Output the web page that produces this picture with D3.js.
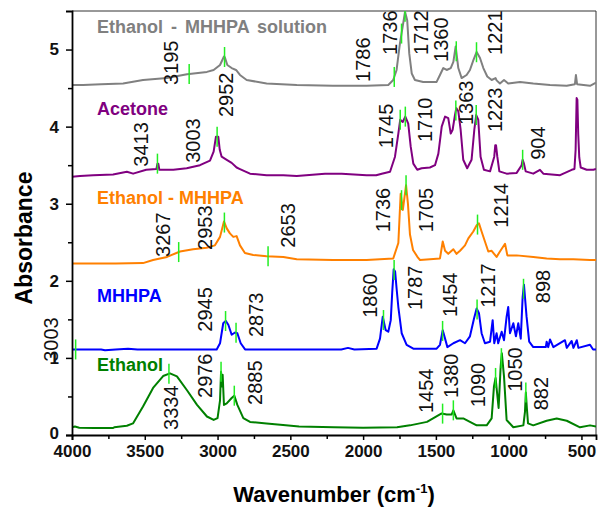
<!DOCTYPE html>
<html>
<head>
<meta charset="utf-8">
<script src="https://cdn.jsdelivr.net/npm/d3@7"></script>
<style>
  body { margin: 0; background: #fff; }
  svg { display: block; font-family: Arial, "Liberation Sans", sans-serif; }
</style>
</head>
<body>
<svg id="chart" width="598" height="508"></svg>
<script>
//  data : [wavenumber (cm-1), absorbance]
const ethanol = [[4000,0.10],[3980,0.11],[3950,0.095],[3850,0.09],[3720,0.09],[3710,0.10],[3623,0.12],[3581,0.15],
  [3512,0.37],[3443,0.61],[3374,0.765],[3327,0.80],[3279,0.76],[3210,0.58],[3141,0.39],[3073,0.24],[3027,0.195],
  [3000,0.22],[2983,0.45],[2976,0.82],[2972,0.63],[2965,0.78],[2956,0.39],[2937,0.41],[2903,0.48],[2885,0.51],
  [2864,0.39],[2823,0.22],[2777,0.17],[2663,0.15],[2550,0.13],[2440,0.11],[2200,0.10],[2000,0.095],[1767,0.10],
  [1678,0.125],[1561,0.17],[1493,0.245],[1460,0.28],[1426,0.265],[1392,0.265],[1380,0.32],[1358,0.215],[1312,0.215],
  [1266,0.17],[1220,0.125],[1151,0.125],[1117,0.215],[1101,0.63],[1090,0.74],[1069,0.35],[1055,0.89],[1047,1.06],
  [1032,0.76],[1014,0.195],[968,0.10],[899,0.125],[888,0.3],[882,0.55],[875,0.35],[867,0.15],[831,0.125],
  [739,0.185],[670,0.215],[601,0.185],[510,0.10],[441,0.125],[400,0.11]];

const mhhpa = [[4000,1.11],[3800,1.11],[3773,1.10],[3700,1.11],[3615,1.12],[3550,1.11],[3006,1.11],[2983,1.19],
  [2961,1.45],[2944,1.48],[2926,1.43],[2903,1.30],[2880,1.33],[2864,1.32],[2841,1.19],[2811,1.11],[2434,1.11],
  [2150,1.11],[2104,1.13],[2060,1.11],[1907,1.12],[1884,1.25],[1865,1.535],[1845,1.36],[1827,1.34],[1810,1.49],
  [1800,1.85],[1790,2.15],[1780,2.12],[1770,1.9],[1758,1.66],[1735,1.32],[1701,1.17],[1655,1.12],[1495,1.12],
  [1472,1.17],[1453,1.36],[1437,1.25],[1421,1.14],[1380,1.19],[1334,1.23],[1300,1.19],[1266,1.28],[1238,1.51],
  [1220,1.64],[1204,1.58],[1186,1.32],[1163,1.19],[1128,1.21],[1110,1.49],[1099,1.19],[1083,1.32],[1072,1.19],
  [1048,1.34],[1032,1.23],[1014,1.535],[1003,1.66],[991,1.32],[968,1.45],[950,1.28],[934,1.45],[917,1.25],
  [904,1.79],[895,1.95],[877,1.535],[859,1.21],[831,1.14],[745,1.14],[739,1.21],[728,1.14],[716,1.24],[693,1.14],
  [613,1.23],[601,1.13],[567,1.22],[555,1.13],[532,1.23],[521,1.13],[441,1.17],[420,1.11],[400,1.11]];

const ethanolMhhpa = [[4000,2.225],[3700,2.225],[3512,2.23],[3443,2.27],[3347,2.31],[3258,2.38],[3168,2.41],
  [3075,2.43],[3018,2.46],[2983,2.57],[2956,2.77],[2937,2.68],[2915,2.615],[2892,2.57],[2869,2.58],[2846,2.46],
  [2812,2.36],[2755,2.335],[2663,2.32],[2548,2.31],[2456,2.28],[2207,2.27],[1976,2.27],[1793,2.29],[1758,2.49],
  [1742,3.13],[1727,2.92],[1705,3.24],[1692,3.0],[1678,2.6],[1657,2.4],[1623,2.3],[1609,2.27],[1472,2.29],
  [1453,2.51],[1437,2.39],[1415,2.35],[1380,2.41],[1358,2.35],[1334,2.39],[1300,2.46],[1277,2.55],[1243,2.64],
  [1220,2.72],[1204,2.745],[1186,2.64],[1163,2.51],[1140,2.38],[1117,2.39],[1083,2.31],[1060,2.38],[1025,2.48],
  [1009,2.33],[945,2.33],[831,2.31],[739,2.29],[647,2.28],[556,2.28],[441,2.27],[400,2.27]];

const acetone = [[4000,3.35],[3945,3.36],[3855,3.37],[3718,3.38],[3623,3.415],[3580,3.39],[3490,3.44],[3420,3.45],
  [3413,3.52],[3407,3.52],[3400,3.44],[3304,3.44],[3212,3.46],[3121,3.50],[3052,3.56],[3027,3.675],[3011,3.87],
  [2995,3.87],[2985,3.7],[2972,3.61],[2937,3.57],[2903,3.53],[2869,3.47],[2846,3.45],[2777,3.39],[2663,3.37],
  [2548,3.37],[2456,3.36],[2262,3.39],[2147,3.39],[1976,3.37],[1910,3.37],[1872,3.39],[1815,3.415],[1781,3.61],
  [1758,3.91],[1745,4.09],[1728,4.06],[1710,4.13],[1690,4.04],[1673,3.74],[1655,3.52],[1628,3.44],[1598,3.46],
  [1541,3.47],[1506,3.50],[1483,3.65],[1460,4.0],[1437,4.13],[1415,4.11],[1398,3.91],[1385,3.96],[1369,4.15],
  [1360,4.24],[1346,4.2],[1330,3.96],[1312,3.57],[1285,3.46],[1255,3.57],[1236,3.96],[1223,4.15],[1209,4.09],
  [1193,3.61],[1170,3.44],[1128,3.42],[1099,3.61],[1092,3.76],[1087,3.76],[1078,3.61],[1064,3.42],[1014,3.39],
  [945,3.40],[911,3.50],[904,3.57],[895,3.52],[883,3.42],[831,3.39],[785,3.44],[762,3.39],[647,3.37],[567,3.44],
  [548,3.45],[540,3.70],[533,4.37],[528,4.35],[522,3.9],[515,3.6],[505,3.47],[464,3.44],[418,3.44],[400,3.45]];

const solution = [[4000,4.54],[3924,4.54],[3800,4.55],[3649,4.56],[3512,4.605],[3347,4.63],[3210,4.68],[3073,4.71],
  [3027,4.735],[2983,4.80],[2956,4.91],[2950,4.9],[2933,4.80],[2903,4.76],[2873,4.735],[2846,4.67],[2800,4.605],
  [2663,4.56],[2456,4.54],[2207,4.53],[1976,4.53],[1827,4.54],[1793,4.605],[1770,4.735],[1747,5.08],[1728,5.30],
  [1712,5.49],[1697,5.38],[1683,4.95],[1666,4.69],[1644,4.605],[1587,4.58],[1495,4.58],[1472,4.67],[1449,4.76],
  [1426,4.735],[1398,4.76],[1380,4.84],[1364,5.04],[1346,4.76],[1323,4.63],[1289,4.67],[1266,4.735],[1243,4.86],
  [1220,4.97],[1197,4.89],[1174,4.76],[1147,4.65],[1117,4.605],[1090,4.63],[1083,4.6],[1060,4.56],[1032,4.605],
  [1003,4.56],[922,4.58],[831,4.56],[716,4.54],[601,4.53],[545,4.55],[538,4.67],[530,4.55],[441,4.53],[400,4.57]];

const series_names = ["Ethanol", "MHHPA", "Ethanol - MHHPA", "Acetone", "Ethanol - MHHPA solution"];
const series_data = [ethanol, mhhpa, ethanolMhhpa, acetone, solution];
const series_colors = ["#008000", "#0000ff", "#ff8000", "#800080", "#808080"];

//  peak marks (wavenumber where the green tick sits) and their labels
const peak_marks = [
  [3334, 2976, 2885, 1454, 1380, 1090, 1050, 882],
  [3975, 2945, 2873, 1860, 1787, 1454, 1217, 898],
  [3267, 2953, 2653, 1736, 1705, 1214],
  [3413, 3003, 1745, 1710, 1363, 1223, 904],
  [3195, 2952, 1786, 1736, 1712, 1360, 1221]];
const peak_labels = [
  ["3334", "2976", "2885", "1454", "1380", "1090", "1050", "882"],
  ["3003", "2945", "2873", "1860", "1787", "1454", "1217", "898"],
  ["3267", "2953", "2653", "1736", "1705", "1214"],
  ["3413", "3003", "1745", "1710", "1363", "1223", "904"],
  ["3195", "2952", "1786", "1736", "1712", "1360", "1221"]];

const x_ticks = [4000, 3500, 3000, 2500, 2000, 1500, 1000, 500];
const x_minor = [3750, 3250, 2750, 2250, 1750, 1250, 750];
const y_ticks = [0, 1, 2, 3, 4, 5];
const y_minor = [0.5, 1.5, 2.5, 3.5, 4.5];

//  layout : where each rotated label starts, in axis units
const label_pos = [
  [[3272,0.065],[3038,0.48],[2695,0.39],[1520,0.285],[1348,0.48],[1163,0.36],[908,0.56],[730,0.32]],
  [[4096,0.95],[3038,1.34],[2688,1.27],[1905,1.52],[1596,1.62],[1355,1.53],[1094,1.65],[716,1.71]],
  [[3327,2.31],[3038,2.40],[2468,2.43],[1815,2.63],[1520,2.63],[1005,2.69]],
  [[3478,3.48],[3121,3.53],[1795,3.72],[1527,3.80],[1245,4.02],[1046,3.93],[750,3.57]],
  [[3272,4.54],[2894,4.125],[1953,4.58],[1767,4.93],[1554,4.93],[1417,4.84],[1046,4.93]]];
const name_pos = [[3828,0.83],[3828,1.725],[3828,3.0],[3828,4.15],[3828,5.215]];

//  draw
function draw_chart() {
  const svg = d3.select("#chart");
  const x = d3.scaleLinear().domain([4000, 400]).range([72, 596]);
  const y = d3.scaleLinear().domain([0, 5.5]).range([435, 11]);
  const [x0, x1] = x.range();
  const [y0, y1] = y.range();

  svg.append("clipPath").attr("id", "plot")
    .append("rect").attr("x", x0).attr("y", y1).attr("width", x1 - x0).attr("height", y0 - y1);

  //  frame top / right
  svg.append("path")
    .attr("d", `M${x0},${y1}H${x1}V${y0}`)
    .attr("fill", "none").attr("stroke", "#333").attr("stroke-width", 1);

  const line = d3.line().x(d => x(d[0])).y(d => y(d[1]));

  const plot = svg.append("g").attr("clip-path", "url(#plot)");
  series_data.forEach((data, i) => {
    plot.append("path")
      .datum(data)
      .attr("fill", "none")
      .attr("stroke", series_colors[i])
      .attr("stroke-width", 2)
      .attr("stroke-linejoin", "round")
      .attr("d", line);
  });

  //  value of a spectrum at a wavenumber (linear between read points)
  function value_at(data, w) {
    for (let k = 0; k < data.length - 1; k++) {
      const a = data[k], b = data[k + 1];
      if (w <= a[0] && w >= b[0]) return a[1] + (b[1] - a[1]) * (a[0] - w) / (a[0] - b[0]);
    }
    return data[0][1];
  }

  series_data.forEach((data, i) => {
    peak_marks[i].forEach(w => {
      const cy = y(value_at(data, w));
      plot.append("line")
        .attr("x1", x(w)).attr("x2", x(w))
        .attr("y1", cy - 10).attr("y2", cy + 10)
        .attr("stroke", "#22ee22").attr("stroke-width", 1.5);
    });
    peak_labels[i].forEach((t, k) => {
      const p = label_pos[i][k];
      svg.append("text")
        .attr("transform", `translate(${x(p[0])},${y(p[1])}) rotate(-90)`)
        .attr("font-size", 20)
        .attr("fill", "#111")
        .text(t);
    });
    svg.append("text")
      .attr("x", x(name_pos[i][0])).attr("y", y(name_pos[i][1]))
      .attr("font-size", 18).attr("font-weight", "bold")
      .attr("word-spacing", i == 4 ? 3 : 0)
      .attr("fill", series_colors[i])
      .text(series_names[i]);
  });

  //  axes
  const xAxis = svg.append("g").attr("transform", `translate(0,${y0})`)
    .call(d3.axisBottom(x).tickValues(x_ticks).tickSize(5).tickPadding(5).tickFormat(d3.format("d")));
  svg.append("g").attr("transform", `translate(0,${y0})`)
    .call(d3.axisBottom(x).tickValues(x_minor).tickSize(4).tickFormat(""))
    .select(".domain").remove();
  const yAxis = svg.append("g").attr("transform", `translate(${x0},0)`)
    .call(d3.axisLeft(y).tickValues(y_ticks).tickSize(6).tickPadding(7).tickFormat(d3.format("d")));
  svg.append("g").attr("transform", `translate(${x0},0)`)
    .call(d3.axisLeft(y).tickValues(y_minor).tickSize(4).tickFormat(""))
    .select(".domain").remove();

  svg.selectAll(".domain").attr("stroke-width", 1.8);
  svg.selectAll(".tick line").attr("stroke-width", 1.5);
  [xAxis, yAxis].forEach(g => g.selectAll("text")
    .attr("font-family", "Arial, 'Liberation Sans', sans-serif")
    .attr("font-size", 17).attr("font-weight", "bold").attr("fill", "#111"));
  yAxis.selectAll(".tick").filter(d => d == 0).select("text").attr("dy", "0.22em");

  //  titles
  svg.append("text")
    .attr("transform", `translate(32,${(y0 + y1) / 2 + 15}) rotate(-90)`)
    .attr("text-anchor", "middle")
    .attr("font-size", 23).attr("font-weight", "bold")
    .text("Absorbance");

  const xt = svg.append("text")
    .attr("x", (x0 + x1) / 2).attr("y", 502)
    .attr("text-anchor", "middle")
    .attr("font-size", 22).attr("font-weight", "bold");
  xt.append("tspan").text("Wavenumber (cm");
  xt.append("tspan").attr("font-size", 13).attr("dy", -9).text("-1");
  xt.append("tspan").attr("dy", 9).text(")");
}

draw_chart();
</script>
</body>
</html>
